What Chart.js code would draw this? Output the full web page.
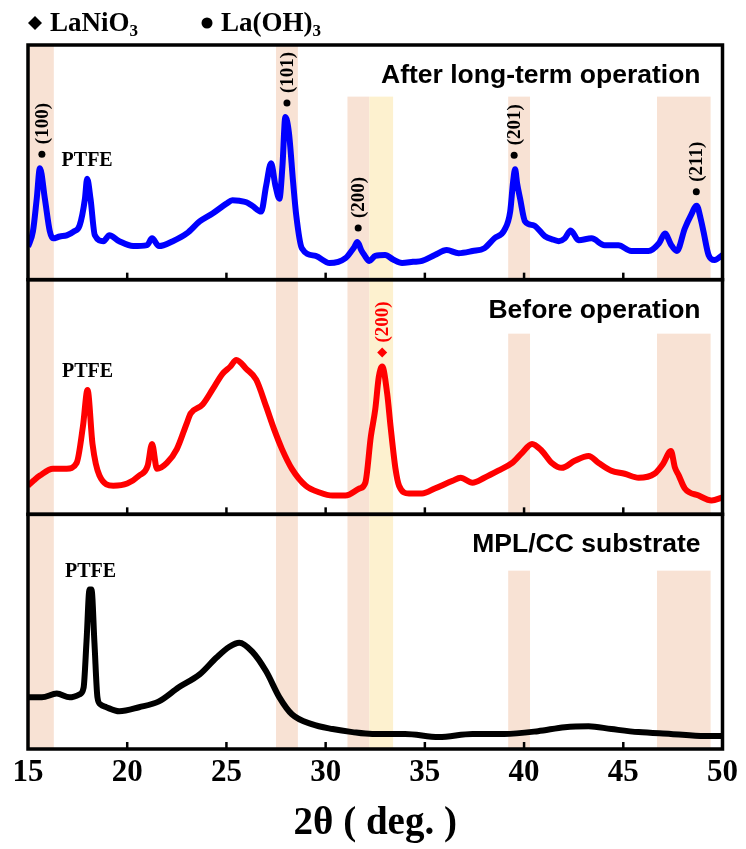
<!DOCTYPE html>
<html>
<head>
<meta charset="utf-8">
<title>XRD</title>
<script src="https://cdn.jsdelivr.net/npm/chart.js@4.4.1/dist/chart.umd.min.js"></script>
<style>
    html, body { margin: 0; padding: 0; background: #fff; }
    canvas { display: block; }
</style>
</head>
<body>
<canvas id="xrdChart" width="746" height="849"></canvas>
<script>
// 2theta range of the x axis
var angleMin = 15;
var angleMax = 50;
var angleStep = 5;

// After long-term operation (blue)
var afterAngles = [15.0, 15.25, 15.44, 15.6, 15.85, 16.1, 16.26, 16.6, 16.95, 17.3, 17.6, 17.87, 17.98, 18.15, 18.37,
    18.8, 19.1, 19.6, 20.3, 21.0, 21.25, 21.6, 22.3, 23.0, 23.65, 24.3, 25.0, 25.3, 25.65, 26.0, 26.3, 26.75,
    27.0, 27.25, 27.47, 27.67, 27.82, 27.97, 28.15, 28.36, 28.52, 28.8, 29.5, 30.2, 31.0, 31.3, 31.45, 31.6,
    31.8, 31.95, 32.2, 32.5, 33.0, 33.4, 33.85, 34.4, 34.86, 35.5, 36.1, 36.7, 37.4, 38.0, 38.5, 39.0, 39.3,
    39.45, 39.55, 39.65, 39.8, 40.05, 40.5, 41.05, 41.5, 41.75, 42.05, 42.35, 42.75, 43.4, 44.06, 44.75, 45.4,
    46.27, 46.8, 47.1, 47.4, 47.7, 48.1, 48.4, 48.7, 48.9, 49.04, 49.3, 49.6, 50.0];
var afterCounts = [14.0, 20.6, 34.5, 47.5, 34.5, 20.6, 17.6, 18.4, 18.9, 20.5, 23.1, 34.5, 43.0, 34.5, 18.9,
    16.4, 18.9, 16.4, 14.3, 14.7, 17.6, 14.3, 16.4, 19.7, 24.8, 28.2, 32.4, 33.8, 33.6, 33.0, 31.5, 29.0,
    40.0, 49.6, 40.0, 34.5, 48.0, 69.3, 62.6, 41.6, 27.3, 13.4, 10.1, 7.1, 9.2, 12.2, 14.0, 16.0,
    12.5, 10.5, 8.0, 10.1, 10.5, 8.6, 7.1, 7.6, 8.0, 10.5, 12.6, 11.3, 12.2, 13.4, 17.6, 21.0, 29.0,
    42.0, 47.0, 41.0, 34.5, 24.8, 23.1, 18.5, 17.0, 16.4, 17.6, 21.0, 16.8, 17.6, 14.7, 14.7, 12.2,
    12.2, 15.5, 19.7, 15.0, 12.2, 21.8, 27.3, 31.5, 26.0, 20.6, 10.5, 8.4, 10.5];

// Before operation (red)
var beforeAngles = [15.0, 15.3, 15.6, 16.26, 16.95, 17.45, 17.77, 18.0, 18.25, 18.6, 19.3, 20.0, 20.6, 21.03,
    21.25, 21.5, 22.0, 22.5, 23.0, 23.2, 23.8, 24.3, 24.8, 25.2, 25.5, 26.0, 26.5, 27.0, 27.4, 27.8, 28.3,
    29.0, 29.7, 30.35, 31.0, 31.7, 32.0, 32.28, 32.5, 32.68, 32.85, 33.1, 33.27, 33.52, 33.7, 34.2, 34.86,
    35.5, 36.4, 36.8, 37.4, 38.0, 38.7, 39.4, 39.9, 40.4, 40.9, 41.4, 41.9, 42.55, 43.25, 43.76, 44.4,
    45.07, 45.77, 46.57, 47.0, 47.4, 47.6, 47.8, 48.1, 48.8, 49.45, 50.0];
var beforeCounts = [12.2, 14.5, 16.5, 19.4, 19.4, 21.9, 37.6, 53.0, 30.0, 16.5, 12.2, 13.1, 16.5, 20.7,
    30.0, 19.4, 21.9, 27.8, 38.8, 43.0, 46.8, 53.2, 59.9, 63.0, 65.8, 62.0, 57.4, 46.0, 36.3, 27.8, 19.4,
    12.2, 9.3, 8.0, 8.0, 11.0, 13.5, 33.3, 44.7, 58.6, 63.0, 51.5, 37.6, 19.4, 12.2, 8.9, 8.9,
    11.0, 14.3, 15.6, 13.5, 15.6, 18.6, 21.9, 26.2, 30.0, 27.0, 21.9, 19.8, 22.8, 24.9, 21.9, 18.6,
    17.3, 15.6, 17.3, 21.5, 27.0, 20.0, 16.5, 11.0, 8.0, 5.9, 7.2];

// MPL/CC substrate (black)
var substrateAngles = [15.0, 15.7, 16.45, 17.1, 17.6, 17.8, 17.95, 18.1, 18.2, 18.35, 18.5, 18.65, 18.95, 19.6,
    20.6, 21.6, 22.6, 23.65, 24.5, 25.15, 25.65, 26.3, 27.0, 27.67, 28.3, 29.3, 30.35, 31.35, 32.35, 34.0,
    35.7, 37.4, 39.0, 40.7, 42.05, 43.25, 44.4, 45.77, 47.4, 49.1, 50.0];
var substrateCounts = [22.0, 22.0, 23.6, 22.0, 23.3, 26.0, 46.0, 68.0, 68.0, 45.0, 22.0, 19.0, 17.8, 16.1,
    17.8, 20.3, 26.3, 31.8, 39.0, 43.6, 45.3, 41.5, 33.1, 22.0, 14.8, 10.6, 8.5, 7.2, 6.4, 6.4,
    5.1, 6.4, 6.4, 7.6, 9.3, 9.7, 8.5, 7.2, 6.4, 5.5, 5.5];

// shaded 2theta regions
var bandStarts = [15.0, 27.5, 31.1, 32.2, 39.2, 46.7];
var bandEnds = [16.3, 28.6, 32.2, 33.4, 40.3, 49.4];
var bandColors = ['#f8e2d4', '#f8e2d4', '#f8e2d4', '#fdf1cf', '#f8e2d4', '#f8e2d4'];

// peak labels
var peakPanels = ['after', 'after', 'after', 'after', 'after', 'before'];
var peakAngles = [15.7, 28.05, 31.64, 39.5, 48.68, 32.85];
var peakNames = ['(100)', '(101)', '(200)', '(201)', '(211)', '(200)'];
var peakPhases = ['La(OH)3', 'La(OH)3', 'La(OH)3', 'La(OH)3', 'La(OH)3', 'LaNiO3'];
var ptfeAngles = [17.98, 18.0, 18.15];

var serif = '"Liberation Serif", "Times New Roman", serif';
var sans = '"Liberation Sans", Arial, sans-serif';

var panels = [
    {key: 'after', axis: 'yAfter', title: 'After long-term operation', color: '#0000ff',
        angles: afterAngles, counts: afterCounts, bandTops: [100, 100, 78, 78, 78, 78], ptfe: 0},
    {key: 'before', axis: 'yBefore', title: 'Before operation', color: '#ff0000',
        angles: beforeAngles, counts: beforeCounts, bandTops: [100, 100, 100, 100, 77, 77], ptfe: 1},
    {key: 'substrate', axis: 'ySubstrate', title: 'MPL/CC substrate', color: '#000000',
        angles: substrateAngles, counts: substrateCounts, bandTops: [100, 100, 100, 100, 76, 76], ptfe: 2}
];

function toPoints(xs, ys) {
    return xs.map(function (v, i) { return {x: v, y: ys[i]}; });
}

function peakValue(p, angle) {
    var best = 0;
    p.angles.forEach(function (a, i) {
        if (Math.abs(a - angle) <= 0.3 && p.counts[i] > best) best = p.counts[i];
    });
    return best;
}

function drawDiamond(ctx, cx, cy, r) {
    ctx.beginPath();
    ctx.moveTo(cx, cy - r);
    ctx.lineTo(cx + r, cy);
    ctx.lineTo(cx, cy + r);
    ctx.lineTo(cx - r, cy);
    ctx.closePath();
    ctx.fill();
}

function drawDot(ctx, cx, cy, r) {
    ctx.beginPath();
    ctx.arc(cx, cy, r, 0, Math.PI * 2);
    ctx.fill();
}

var xrdDecor = {
    id: 'xrdDecor',
    beforeDatasetsDraw: function (chart) {
        var ctx = chart.ctx, xs = chart.scales.x;
        ctx.save();
        panels.forEach(function (p) {
            var ys = chart.scales[p.axis];
            bandStarts.forEach(function (b, i) {
                var x0 = xs.getPixelForValue(b), x1 = xs.getPixelForValue(bandEnds[i]);
                var top = ys.getPixelForValue(p.bandTops[i]);
                ctx.fillStyle = bandColors[i];
                ctx.fillRect(x0, top, x1 - x0, ys.bottom - top);
            });
        });
        ctx.restore();
    },
    afterDatasetsDraw: function (chart) {
        var ctx = chart.ctx, xs = chart.scales.x, area = chart.chartArea;
        ctx.save();
        ctx.strokeStyle = '#000';
        panels.forEach(function (p) {
            var ys = chart.scales[p.axis];
            // tick marks pointing in from each panel's bottom
            ctx.lineWidth = 2.5;
            xs.ticks.forEach(function (t) {
                if (t.value <= angleMin || t.value >= angleMax) return;
                var px = xs.getPixelForValue(t.value);
                ctx.beginPath();
                ctx.moveTo(px, ys.bottom);
                ctx.lineTo(px, ys.bottom - 7);
                ctx.stroke();
            });
            ctx.lineWidth = 3.5;
            ctx.strokeRect(area.left, ys.top, area.right - area.left, ys.bottom - ys.top);

            // panel title
            ctx.fillStyle = '#000';
            ctx.font = 'bold 26.5px ' + sans;
            ctx.textAlign = 'right';
            ctx.textBaseline = 'alphabetic';
            ctx.fillText(p.title, area.right - 22, ys.top + 38);

            // PTFE label
            var pa = ptfeAngles[p.ptfe];
            var py = ys.getPixelForValue(peakValue(p, pa));
            ctx.font = 'bold 20px ' + serif;
            ctx.textAlign = 'center';
            ctx.textBaseline = 'middle';
            ctx.fillText('PTFE', xs.getPixelForValue(pa), py - 18);
        });

        // peak index labels
        peakAngles.forEach(function (a, i) {
            var p = panels.filter(function (q) { return q.key === peakPanels[i]; })[0];
            var ys = chart.scales[p.axis];
            var px = xs.getPixelForValue(a);
            var py = ys.getPixelForValue(peakValue(p, a)) - 14;
            var red = peakPhases[i] === 'LaNiO3';
            ctx.fillStyle = red ? '#ff0000' : '#000';
            if (red) drawDiamond(ctx, px, py, 5); else drawDot(ctx, px, py, 3.5);
            ctx.save();
            ctx.translate(px, py - 10);
            ctx.rotate(-Math.PI / 2);
            ctx.font = 'bold 19px ' + serif;
            ctx.textAlign = 'left';
            ctx.textBaseline = 'middle';
            ctx.fillText(peakNames[i], 0, 1);
            ctx.restore();
        });
        ctx.restore();
    },
    afterDraw: function (chart) {
        var ctx = chart.ctx;
        ctx.save();
        ctx.fillStyle = '#000';
        ctx.textAlign = 'left';
        ctx.textBaseline = 'alphabetic';
        drawDiamond(ctx, 35, 23, 7);
        ctx.font = 'bold 27px ' + serif;
        ctx.fillText('LaNiO', 50, 31);
        var w = ctx.measureText('LaNiO').width;
        ctx.font = 'bold 17px ' + serif;
        ctx.fillText('3', 50 + w, 36);

        drawDot(ctx, 207, 23, 5.5);
        ctx.font = 'bold 27px ' + serif;
        ctx.fillText('La(OH)', 221, 31);
        w = ctx.measureText('La(OH)').width;
        ctx.font = 'bold 17px ' + serif;
        ctx.fillText('3', 221 + w, 36);
        ctx.restore();
    }
};

function hiddenY(weight) {
    return {
        type: 'linear', position: 'left', stack: 'xrd', stackWeight: 1, weight: weight,
        min: 0, max: 100, display: false
    };
}

new Chart(document.getElementById('xrdChart'), {
    type: 'line',
    data: {
        datasets: panels.map(function (p) {
            return {
                label: p.title,
                data: toPoints(p.angles, p.counts),
                yAxisID: p.axis,
                borderColor: p.color,
                borderWidth: 6,
                pointRadius: 0,
                fill: false,
                cubicInterpolationMode: 'monotone'
            };
        })
    },
    options: {
        responsive: false,
        animation: false,
        layout: {padding: {top: 45, left: 28, right: 22, bottom: 4}},
        plugins: {legend: {display: false}, tooltip: {enabled: false}},
        scales: {
            x: {
                type: 'linear', min: angleMin, max: angleMax,
                grid: {display: false, drawTicks: false},
                border: {display: false},
                ticks: {
                    stepSize: angleStep, padding: 8, color: '#000',
                    font: {family: serif, size: 31, weight: 'bold', lineHeight: 1}
                },
                title: {
                    display: true, text: '2θ ( deg. )', color: '#000',
                    padding: {top: 8, bottom: 2},
                    font: {family: serif, size: 39, weight: 'bold', lineHeight: 1}
                }
            },
            yAfter: hiddenY(3),
            yBefore: hiddenY(2),
            ySubstrate: hiddenY(1)
        }
    },
    plugins: [xrdDecor]
});
</script>
</body>
</html>
